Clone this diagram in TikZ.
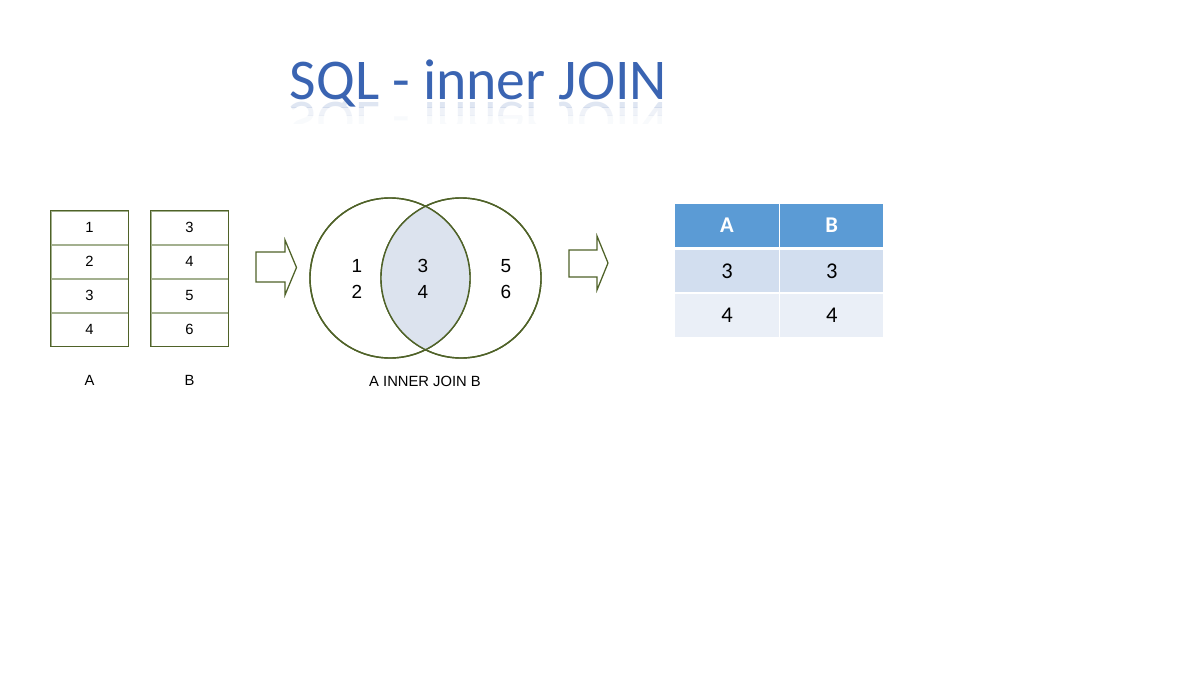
\documentclass[tikz,border=0pt]{standalone}
\usepackage{fontspec}
\usepackage{xcolor}
\usepackage{tikz}
\usetikzlibrary{positioning,calc}
\newfontfamily\titlefont{Carlito}
\newfontfamily\diagfont{Liberation Sans}
\definecolor{tblgreen}{HTML}{4F6228}
\definecolor{rowline}{HTML}{A3B08F}
\definecolor{vennfill}{HTML}{DCE3EE}
\definecolor{titleblue}{HTML}{3A64B2}
\definecolor{hdrblue}{HTML}{5B9BD5}
\definecolor{rowone}{HTML}{D2DEEF}
\definecolor{rowtwo}{HTML}{EAEFF7}
\tikzset{
    srccell/.style={
        draw=rowline, line width=0.6pt, minimum width=1.925cm,
        minimum height=0.83cm, inner sep=0pt,
        font=\diagfont\fontsize{10.5}{12}\selectfont},
    srcframe/.style={draw=tblgreen, line width=1pt},
    srclabel/.style={font=\diagfont\fontsize{10.5}{12}\selectfont},
    vennset/.style={
        circle, draw=tblgreen, line width=1pt, minimum size=4cm, inner sep=0pt},
    venntext/.style={align=center, font=\diagfont\fontsize{13.5}{18.4}\selectfont},
    vennlabel/.style={font=\diagfont\fontsize{10.5}{12}\selectfont},
    blockarrow/.style={draw=tblgreen, line width=0.9pt, fill=white},
    rescell/.style={
        minimum width=2.58cm, minimum height=1.0625cm, inner sep=0pt,
        font=\titlefont\fontsize{16}{18}\selectfont},
    reshead/.style={rescell, fill=hdrblue, text=white,
        font=\titlefont\bfseries\fontsize{16}{18}\selectfont},
    titletext/.style={anchor=base, text=titleblue, inner sep=0pt,
        font=\titlefont\fontsize{41}{46}\selectfont},
}

\begin{document}
\begin{tikzpicture}[x=0.025cm, y=-0.025cm]

    \fill[white] (0,0) rectangle (1200,675);
    \useasboundingbox (0,0) rectangle (1200,675);

    % --- Title ----------------------------------------------------------------------
    \node[titletext] (title) at (478.5,100) {SQL - inner JOIN};
    % faded mirror image below the title
    \begin{scope}
        \clip (270,101) rectangle (690,108);
        \node[titletext, yscale=-1, opacity=0.16] (mirrorA) at (478.5,103) {SQL - inner JOIN};
    \end{scope}
    \begin{scope}
        \clip (270,108) rectangle (690,116);
        \node[titletext, yscale=-1, opacity=0.08] (mirrorB) at (478.5,103) {SQL - inner JOIN};
    \end{scope}
    \begin{scope}
        \clip (270,116) rectangle (690,124);
        \node[titletext, yscale=-1, opacity=0.03] (mirrorC) at (478.5,103) {SQL - inner JOIN};
    \end{scope}

    % --- Source table A -------------------------------------------------------------
    \node[srccell] (a1) at (89.5,227.6) {1};
    \node[srccell, below=0pt of a1] (a2) {2};
    \node[srccell, below=0pt of a2] (a3) {3};
    \node[srccell, below=0pt of a3] (a4) {4};
    \draw[srcframe] (a1.north west) rectangle (a4.south east);
    \node[srclabel, below=0.6cm of a4] (labA) {A};

    % --- Source table B -------------------------------------------------------------
    \node[srccell] (b1) at (189.5,227.6) {3};
    \node[srccell, below=0pt of b1] (b2) {4};
    \node[srccell, below=0pt of b2] (b3) {5};
    \node[srccell, below=0pt of b3] (b4) {6};
    \draw[srcframe] (b1.north west) rectangle (b4.south east);
    \node[srclabel, below=0.6cm of b4] (labB) {B};

    % --- First arrow ----------------------------------------------------------------
    \draw[blockarrow] (256,252) -- (285,252) -- (285,240) -- (296.5,267.5)
        -- (285,295) -- (285,282) -- (256,282) -- cycle;

    % --- Venn diagram ---------------------------------------------------------------
    \node[vennset] (setA) at (390,278) {};
    \node[vennset] (setB) at (461,278) {};
    \begin{scope}
        \clip (setA.center) circle (2cm);
        \fill[vennfill] (setB.center) circle (2cm);
    \end{scope}
    \draw[tblgreen, line width=1pt] (setA.center) circle (2cm);
    \draw[tblgreen, line width=1pt] (setB.center) circle (2cm);
    \node[venntext] (onlyA) at (357,279) {1\\2};
    \node[venntext] (both) at (423,279) {3\\4};
    \node[venntext] (onlyB) at (506,279) {5\\6};
    \node[vennlabel] (vennname) at (425,381) {A INNER JOIN B};

    % --- Second arrow ---------------------------------------------------------------
    \draw[blockarrow] (569,250) -- (597,250) -- (597,236) -- (608,263)
        -- (597,290) -- (597,277) -- (569,277) -- cycle;

    % --- Result table ---------------------------------------------------------------
    \node[reshead] (hA) at (727,225.4) {A};
    \node[reshead, right=0.025cm of hA] (hB) {B};
    \node[rescell, fill=rowone, below=0.065cm of hA] (r1A) {3};
    \node[rescell, fill=rowone, below=0.065cm of hB] (r1B) {3};
    \node[rescell, fill=rowtwo, below=0.03cm of r1A] (r2A) {4};
    \node[rescell, fill=rowtwo, below=0.03cm of r1B] (r2B) {4};

\end{tikzpicture}
\end{document}
